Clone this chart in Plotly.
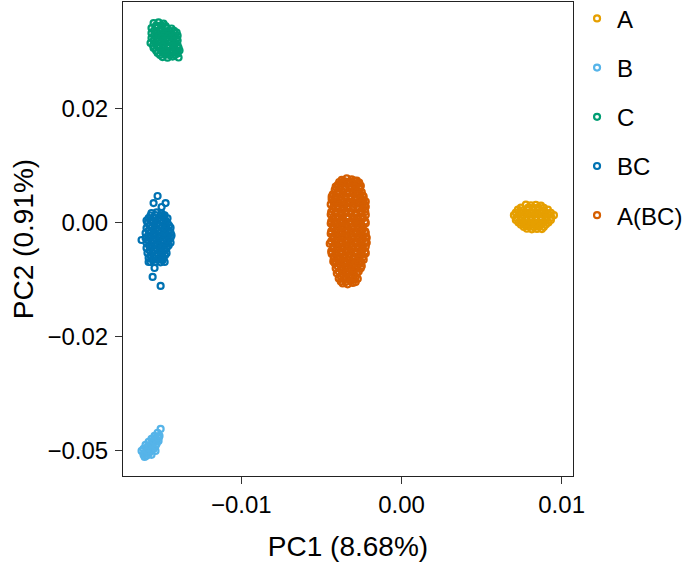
import plotly.graph_objects as go

# ---------------- data ----------------
groups = ["A", "B", "C", "BC", "A(BC)"]
colors = {"A": "#E69F00", "B": "#56B4E9", "C": "#009E73", "BC": "#0072B2", "A(BC)": "#D55E00"}

a_x = [0.00777, 0.00808, 0.00839, 0.00871,
       0.00746, 0.00793, 0.00824, 0.00855, 0.00889,
       0.00727, 0.00758, 0.00789, 0.00821, 0.00852, 0.00883, 0.00914,
       0.00714, 0.00746, 0.00777, 0.00808, 0.00839, 0.00871, 0.00902, 0.00933,
       0.00702, 0.00733, 0.00764, 0.00796, 0.00827, 0.00858, 0.00889, 0.00921, 0.00952,
       0.00717, 0.00749, 0.00780, 0.00811, 0.00842, 0.00874, 0.00905, 0.00936,
       0.00714, 0.00746, 0.00777, 0.00808, 0.00839, 0.00871, 0.00902, 0.00933,
       0.00730, 0.00761, 0.00793, 0.00824, 0.00855, 0.00886, 0.00918,
       0.00746, 0.00777, 0.00808, 0.00839, 0.00871, 0.00902,
       0.00764, 0.00796, 0.00827, 0.00858, 0.00889,
       0.00783, 0.00814, 0.00846, 0.00877]
a_y = [0.00395, 0.00380, 0.00392, 0.00375,
       0.00330, 0.00338, 0.00325, 0.00336, 0.00328,
       0.00285, 0.00270, 0.00290, 0.00275, 0.00282, 0.00268, 0.00286,
       0.00220, 0.00228, 0.00215, 0.00226, 0.00218, 0.00230, 0.00221, 0.00216,
       0.00165, 0.00175, 0.00160, 0.00172, 0.00169, 0.00178, 0.00162, 0.00170, 0.00166,
       0.00110, 0.00118, 0.00106, 0.00115, 0.00112, 0.00120, 0.00108, 0.00114,
       0.00062, 0.00050, 0.00066, 0.00055, 0.00059, 0.00068, 0.00052, 0.00061,
       0.00004, 0.00010, -0.00002, 0.00006, 0.00000, 0.00008, 0.00003,
       -0.00045, -0.00055, -0.00042, -0.00058, -0.00048, -0.00040,
       -0.00094, -0.00088, -0.00098, -0.00090, -0.00096,
       -0.00132, -0.00145, -0.00136, -0.00140]

b_x = [-0.01504, -0.01523, -0.01542, -0.01511, -0.01561, -0.01529, -0.01579, -0.01548,
       -0.01517, -0.01598, -0.01567, -0.01536, -0.01611, -0.01579, -0.01548, -0.01604,
       -0.01573, -0.01592, -0.01561, -0.01604, -0.01536, -0.01623,
       -0.01536, -0.01554, -0.01586, -0.01561, -0.01592, -0.01579, -0.01611, -0.01529,
       -0.01517]
b_y = [-0.04518, -0.04605, -0.04671, -0.04671, -0.04737, -0.04759, -0.04803, -0.04825,
       -0.04781, -0.04868, -0.04890, -0.04890, -0.04956, -0.04956, -0.04956, -0.05044,
       -0.05022, -0.05109, -0.05087, -0.05131, -0.05000, -0.05000,
       -0.04715, -0.04781, -0.04912, -0.04978, -0.05000, -0.05066, -0.05087, -0.04846,
       -0.04715]

c_x = [-0.01548, -0.01517, -0.01486,
       -0.01533, -0.01501, -0.01473,
       -0.01561, -0.01529, -0.01498, -0.01467, -0.01436,
       -0.01545, -0.01514, -0.01482, -0.01451, -0.01420,
       -0.01561, -0.01529, -0.01498, -0.01467, -0.01436, -0.01404,
       -0.01545, -0.01514, -0.01482, -0.01451, -0.01420, -0.01398,
       -0.01561, -0.01529, -0.01498, -0.01467, -0.01436, -0.01404,
       -0.01548, -0.01517, -0.01486, -0.01454, -0.01423, -0.01398,
       -0.01567, -0.01536, -0.01504, -0.01473, -0.01442, -0.01411,
       -0.01551, -0.01520, -0.01489, -0.01457, -0.01426, -0.01398,
       -0.01548, -0.01517, -0.01486, -0.01454, -0.01423, -0.01392,
       -0.01533, -0.01501, -0.01470, -0.01439, -0.01407, -0.01386,
       -0.01523, -0.01492, -0.01461, -0.01429, -0.01398,
       -0.01508, -0.01476, -0.01445, -0.01414,
       -0.01492, -0.01461, -0.01429, -0.01392]
c_y = [0.04373, 0.04390, 0.04360,
       0.04319, 0.04325, 0.04310,
       0.04264, 0.04280, 0.04250, 0.04270, 0.04255,
       0.04209, 0.04215, 0.04200, 0.04212, 0.04205,
       0.04154, 0.04170, 0.04140, 0.04160, 0.04145, 0.04165,
       0.04100, 0.04092, 0.04108, 0.04096, 0.04104, 0.04098,
       0.04045, 0.04030, 0.04060, 0.04040, 0.04055, 0.04035,
       0.03990, 0.03998, 0.03984, 0.03995, 0.03986, 0.03992,
       0.03935, 0.03920, 0.03950, 0.03930, 0.03945, 0.03925,
       0.03881, 0.03888, 0.03875, 0.03885, 0.03878, 0.03884,
       0.03826, 0.03840, 0.03815, 0.03835, 0.03820, 0.03830,
       0.03771, 0.03778, 0.03765, 0.03775, 0.03768, 0.03772,
       0.03716, 0.03730, 0.03705, 0.03725, 0.03710,
       0.03673, 0.03680, 0.03668, 0.03676,
       0.03629, 0.03615, 0.03640, 0.03620]

bc_x = [-0.01561, -0.01529, -0.01498,
        -0.01567, -0.01536, -0.01504, -0.01479,
        -0.01579, -0.01548, -0.01517, -0.01486, -0.01461,
        -0.01592, -0.01567, -0.01536, -0.01504, -0.01473,
        -0.01586, -0.01554, -0.01523, -0.01492, -0.01461,
        -0.01573, -0.01542, -0.01511, -0.01479, -0.01451,
        -0.01592, -0.01561, -0.01529, -0.01498, -0.01467, -0.01442,
        -0.01579, -0.01548, -0.01517, -0.01486, -0.01454,
        -0.01598, -0.01567, -0.01536, -0.01504, -0.01473, -0.01442,
        -0.01582, -0.01551, -0.01520, -0.01489, -0.01457, -0.01436,
        -0.01598, -0.01567, -0.01536, -0.01504, -0.01473, -0.01442,
        -0.01582, -0.01551, -0.01520, -0.01489, -0.01457,
        -0.01592, -0.01561, -0.01529, -0.01498, -0.01467, -0.01442,
        -0.01576, -0.01545, -0.01514, -0.01482, -0.01454,
        -0.01592, -0.01561, -0.01529, -0.01498, -0.01467,
        -0.01573, -0.01542, -0.01511, -0.01479,
        -0.01586, -0.01554, -0.01523, -0.01492, -0.01467,
        -0.01567, -0.01536, -0.01504, -0.01476,
        -0.01579, -0.01548, -0.01517, -0.01486,
        -0.01554, -0.01523, -0.01492,
        -0.01567, -0.01536, -0.01504,
        -0.01523, -0.01548, -0.01473, -0.01498, -0.01492, -0.01623,
        -0.01554, -0.01504, -0.01542, -0.01479, -0.01579]
bc_y = [0.00212, 0.00225, 0.00205,
        0.00158, 0.00165, 0.00150, 0.00160,
        0.00103, 0.00115, 0.00095, 0.00110, 0.00098,
        0.00048, 0.00055, 0.00042, 0.00052, 0.00045,
        -0.00007, 0.00005, -0.00015, 0.00000, -0.00010,
        -0.00061, -0.00055, -0.00068, -0.00058, -0.00064,
        -0.00116, -0.00105, -0.00125, -0.00110, -0.00120, -0.00108,
        -0.00171, -0.00165, -0.00178, -0.00168, -0.00174,
        -0.00226, -0.00215, -0.00235, -0.00220, -0.00230, -0.00218,
        -0.00280, -0.00274, -0.00286, -0.00277, -0.00283, -0.00279,
        -0.00335, -0.00325, -0.00345, -0.00330, -0.00340, -0.00328,
        -0.00390, -0.00384, -0.00396, -0.00387, -0.00393,
        -0.00445, -0.00435, -0.00455, -0.00440, -0.00450, -0.00438,
        -0.00499, -0.00493, -0.00505, -0.00496, -0.00502,
        -0.00554, -0.00545, -0.00565, -0.00550, -0.00558,
        -0.00609, -0.00603, -0.00615, -0.00606,
        -0.00664, -0.00655, -0.00672, -0.00660, -0.00668,
        -0.00718, -0.00712, -0.00724, -0.00715,
        -0.00773, -0.00765, -0.00780, -0.00770,
        -0.00817, -0.00812, -0.00822,
        -0.00861, -0.00855, -0.00868,
        0.00585, 0.00431, 0.00431, 0.00344, 0.00169, -0.00379,
        -0.01189, -0.01386, -0.00992, -0.00861, -0.00861]

abc_x = [-0.00373, -0.00342, -0.00311, -0.00279,
         -0.00389, -0.00358, -0.00326, -0.00295, -0.00264,
         -0.00398, -0.00367, -0.00336, -0.00304, -0.00273, -0.00254,
         -0.00411, -0.00383, -0.00351, -0.00320, -0.00289, -0.00258,
         -0.00417, -0.00386, -0.00354, -0.00323, -0.00292, -0.00261,
         -0.00401, -0.00370, -0.00339, -0.00308, -0.00276, -0.00248,
         -0.00429, -0.00398, -0.00367, -0.00336, -0.00304, -0.00273, -0.00242,
         -0.00436, -0.00414, -0.00383, -0.00351, -0.00320, -0.00289, -0.00258, -0.00236,
         -0.00436, -0.00411, -0.00379, -0.00348, -0.00317, -0.00286, -0.00254, -0.00236,
         -0.00426, -0.00398, -0.00367, -0.00336, -0.00304, -0.00273, -0.00245, -0.00223,
         -0.00442, -0.00417, -0.00386, -0.00354, -0.00323, -0.00292, -0.00261, -0.00229,
         -0.00426, -0.00398, -0.00367, -0.00336, -0.00304, -0.00273, -0.00242, -0.00223,
         -0.00429, -0.00398, -0.00367, -0.00336, -0.00304, -0.00273, -0.00242,
         -0.00439, -0.00411, -0.00379, -0.00348, -0.00317, -0.00286, -0.00254, -0.00226,
         -0.00442, -0.00411, -0.00379, -0.00348, -0.00317, -0.00286, -0.00254, -0.00223,
         -0.00426, -0.00398, -0.00367, -0.00336, -0.00304, -0.00273, -0.00242,
         -0.00429, -0.00398, -0.00367, -0.00336, -0.00304, -0.00273, -0.00242,
         -0.00439, -0.00411, -0.00379, -0.00348, -0.00317, -0.00286, -0.00254, -0.00226,
         -0.00442, -0.00411, -0.00379, -0.00348, -0.00317, -0.00286, -0.00254, -0.00223,
         -0.00426, -0.00398, -0.00367, -0.00336, -0.00304, -0.00273, -0.00242,
         -0.00429, -0.00398, -0.00367, -0.00336, -0.00304, -0.00273, -0.00242,
         -0.00439, -0.00411, -0.00379, -0.00348, -0.00317, -0.00286, -0.00254, -0.00226,
         -0.00442, -0.00411, -0.00379, -0.00348, -0.00317, -0.00286, -0.00254, -0.00223,
         -0.00426, -0.00398, -0.00367, -0.00336, -0.00304, -0.00273, -0.00242, -0.00223,
         -0.00429, -0.00398, -0.00367, -0.00336, -0.00304, -0.00273, -0.00242, -0.00217,
         -0.00439, -0.00411, -0.00379, -0.00348, -0.00317, -0.00286, -0.00254, -0.00226,
         -0.00448, -0.00411, -0.00379, -0.00348, -0.00317, -0.00286, -0.00254, -0.00217,
         -0.00426, -0.00398, -0.00367, -0.00336, -0.00304, -0.00273, -0.00242, -0.00223,
         -0.00429, -0.00398, -0.00367, -0.00336, -0.00304, -0.00273, -0.00242,
         -0.00439, -0.00411, -0.00379, -0.00348, -0.00317, -0.00286, -0.00254, -0.00226,
         -0.00436, -0.00411, -0.00379, -0.00348, -0.00317, -0.00286, -0.00254, -0.00223,
         -0.00423, -0.00392, -0.00361, -0.00329, -0.00298, -0.00267, -0.00239,
         -0.00423, -0.00392, -0.00361, -0.00329, -0.00298, -0.00267, -0.00236,
         -0.00426, -0.00408, -0.00376, -0.00345, -0.00314, -0.00283, -0.00251,
         -0.00417, -0.00386, -0.00354, -0.00323, -0.00292, -0.00261,
         -0.00398, -0.00367, -0.00336, -0.00304, -0.00273, -0.00248,
         -0.00411, -0.00379, -0.00348, -0.00317, -0.00286, -0.00254,
         -0.00392, -0.00361, -0.00329, -0.00298, -0.00267,
         -0.00404, -0.00373, -0.00342, -0.00311, -0.00279,
         -0.00379, -0.00348, -0.00317, -0.00286,
         -0.00392, -0.00361, -0.00329, -0.00298, -0.00273,
         -0.00379, -0.00348, -0.00317, -0.00286,
         -0.00367, -0.00336, -0.00304]
abc_y = [0.0094, 0.0097, 0.0095, 0.0092,
         0.0089, 0.0091, 0.0090, 0.0092, 0.0088,
         0.0083, 0.0086, 0.0084, 0.0087, 0.0085, 0.0081,
         0.0079, 0.0080, 0.0078, 0.0080, 0.0079, 0.0078,
         0.0072, 0.0075, 0.0073, 0.0076, 0.0072, 0.0074,
         0.0068, 0.0069, 0.0067, 0.0069, 0.0068, 0.0067,
         0.0062, 0.0064, 0.0061, 0.0065, 0.0063, 0.0062, 0.0060,
         0.0057, 0.0058, 0.0056, 0.0058, 0.0057, 0.0056, 0.0058, 0.0057,
         0.0051, 0.0053, 0.0050, 0.0054, 0.0052, 0.0050, 0.0053, 0.0049,
         0.0046, 0.0047, 0.0045, 0.0047, 0.0046, 0.0045, 0.0047, 0.0046,
         0.0040, 0.0043, 0.0041, 0.0039, 0.0042, 0.0040, 0.0043, 0.0039,
         0.0035, 0.0036, 0.0034, 0.0036, 0.0035, 0.0034, 0.0036, 0.0035,
         0.0029, 0.0031, 0.0028, 0.0032, 0.0030, 0.0029, 0.0031,
         0.0024, 0.0025, 0.0023, 0.0025, 0.0024, 0.0023, 0.0025, 0.0024,
         0.0018, 0.0020, 0.0017, 0.0021, 0.0019, 0.0018, 0.0020, 0.0017,
         0.0013, 0.0014, 0.0012, 0.0014, 0.0013, 0.0012, 0.0014,
         0.0007, 0.0009, 0.0006, 0.0010, 0.0008, 0.0007, 0.0009,
         0.0003, 0.0002, 0.0004, 0.0002, 0.0003, 0.0004, 0.0002, 0.0003,
         -0.0002, -0.0004, -0.0001, -0.0005, -0.0003, -0.0002, -0.0004, -0.0001,
         -0.0008, -0.0009, -0.0007, -0.0009, -0.0008, -0.0007, -0.0009,
         -0.0013, -0.0015, -0.0012, -0.0016, -0.0014, -0.0013, -0.0015,
         -0.0019, -0.0020, -0.0018, -0.0020, -0.0019, -0.0018, -0.0020, -0.0019,
         -0.0024, -0.0026, -0.0023, -0.0027, -0.0025, -0.0024, -0.0026, -0.0023,
         -0.0030, -0.0031, -0.0029, -0.0031, -0.0030, -0.0029, -0.0031, -0.0030,
         -0.0035, -0.0037, -0.0034, -0.0038, -0.0036, -0.0035, -0.0037, -0.0033,
         -0.0041, -0.0042, -0.0040, -0.0042, -0.0041, -0.0040, -0.0042, -0.0041,
         -0.0046, -0.0048, -0.0045, -0.0049, -0.0047, -0.0046, -0.0048, -0.0044,
         -0.0052, -0.0053, -0.0051, -0.0053, -0.0052, -0.0051, -0.0053, -0.0052,
         -0.0057, -0.0059, -0.0056, -0.0060, -0.0058, -0.0057, -0.0059,
         -0.0063, -0.0064, -0.0062, -0.0064, -0.0063, -0.0062, -0.0064, -0.0063,
         -0.0068, -0.0070, -0.0067, -0.0071, -0.0069, -0.0068, -0.0070, -0.0067,
         -0.0074, -0.0075, -0.0073, -0.0075, -0.0074, -0.0073, -0.0075,
         -0.0079, -0.0081, -0.0078, -0.0082, -0.0080, -0.0079, -0.0081,
         -0.0085, -0.0086, -0.0084, -0.0086, -0.0085, -0.0084, -0.0086,
         -0.0089, -0.0091, -0.0088, -0.0092, -0.0090, -0.0089,
         -0.0096, -0.0097, -0.0095, -0.0097, -0.0096, -0.0095,
         -0.0100, -0.0102, -0.0099, -0.0103, -0.0101, -0.0100,
         -0.0107, -0.0108, -0.0106, -0.0108, -0.0107,
         -0.0111, -0.0113, -0.0110, -0.0114, -0.0112,
         -0.0118, -0.0119, -0.0117, -0.0119,
         -0.0122, -0.0124, -0.0121, -0.0125, -0.0123,
         -0.0129, -0.0130, -0.0128, -0.0130,
         -0.0133, -0.0135, -0.0132]

series = {"A": (a_x, a_y), "B": (b_x, b_y), "C": (c_x, c_y),
          "BC": (bc_x, bc_y), "A(BC)": (abc_x, abc_y)}

x_ticks = [-0.01, 0.0, 0.01]
x_ticktext = ["\u22120.01", "0.00", "0.01"]
y_ticks = [0.025, 0.0, -0.025, -0.05]
y_ticktext = ["0.02", "0.00", "\u22120.02", "\u22120.05"]

FONT = "Liberation Sans, Arial, sans-serif"

fig = go.Figure()
for g in groups:
    xs, ys = series[g]
    fig.add_trace(go.Scatter(
        x=xs, y=ys, mode="markers", name=g, legendgroup=g,
        marker=dict(symbol="circle-open", size=6, color=colors[g],
                    line=dict(width=2.2, color=colors[g])),
    ))

fig.update_layout(
    width=685, height=565,
    margin=dict(l=123, r=112, t=2, b=89, autoexpand=False),
    paper_bgcolor="white", plot_bgcolor="white",
    font=dict(family=FONT, color="black"),
    showlegend=True,
    legend=dict(x=1.009, xanchor="left", y=1.012, yanchor="top",
                font=dict(size=24, family=FONT, color="black"),
                tracegroupgap=15, itemwidth=30,
                bgcolor="rgba(0,0,0,0)"),
)
fig.update_xaxes(
    range=[-0.01739, 0.01071], tickvals=x_ticks, ticktext=x_ticktext,
    showgrid=False, zeroline=False, automargin=False,
    showline=True, mirror=True, linecolor="#222", linewidth=1,
    ticks="outside", ticklen=7, tickwidth=1.3, tickcolor="#333",
    ticklabelstandoff=0,
    tickfont=dict(size=24, family=FONT, color="black"),
    title=dict(text="PC1 (8.68%)", font=dict(size=28, family=FONT, color="black"), standoff=19),
)
fig.update_yaxes(
    range=[-0.0555, 0.04836], tickvals=y_ticks, ticktext=y_ticktext,
    showgrid=False, zeroline=False, automargin=False,
    showline=True, mirror=True, linecolor="#222", linewidth=1,
    ticks="outside", ticklen=7, tickwidth=1.3, tickcolor="#333",
    ticklabelstandoff=2,
    tickfont=dict(size=24, family=FONT, color="black"),
    title=dict(text="PC2 (0.91%)", font=dict(size=28, family=FONT, color="black"), standoff=5),
)

fig.write_html("out.html",
               config={"displayModeBar": False},
               post_script="document.body.style.margin='0';document.body.style.padding='0';")
